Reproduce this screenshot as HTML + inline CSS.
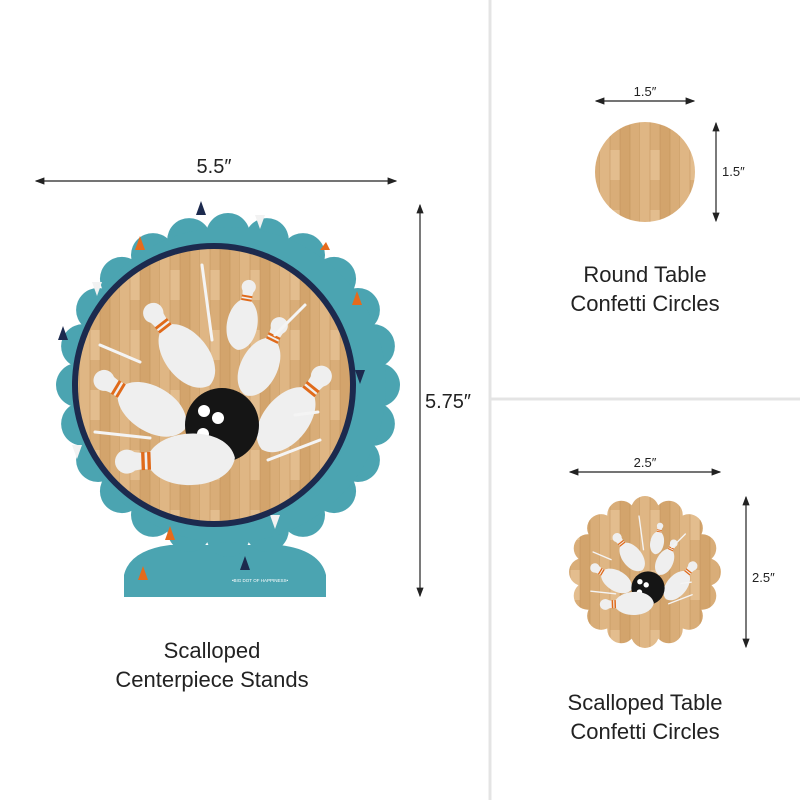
<!DOCTYPE html>
<html><head><meta charset="utf-8"><style>
body{margin:0;background:#fff;}
svg{display:block}
text{font-family:"Liberation Sans",sans-serif;fill:#222}
</style></head><body>
<svg width="800" height="800" viewBox="0 0 800 800" xmlns="http://www.w3.org/2000/svg">
<defs>
<marker id="a" markerWidth="8" markerHeight="8" refX="7" refY="4" orient="auto-start-reverse"><path d="M0,1 L8,4 L0,7 z" fill="#222"/></marker>
<pattern id="wood" width="40" height="60" patternUnits="userSpaceOnUse">
<rect width="40" height="60" fill="#d9ad78"/>
<rect x="0" width="10" height="60" fill="#dfb684"/>
<rect x="20" width="10" height="60" fill="#d3a46c"/>
<rect x="10" y="30" width="10" height="30" fill="#e3bd8e"/>
<path d="M10,0V60M20,0V60M30,0V60M40,0V60" stroke="#b98a52" stroke-width="0.8" opacity="0.5"/>
</pattern>
<g id="pin">
<circle cx="10" cy="0" r="10" fill="#efefef"/>
<path d="M10,-9 C20,-7 24,-6 30,-8 C45,-28 95,-26 100,0 C95,26 45,28 30,8 C24,6 20,7 10,9 z" fill="#efefef"/>
<rect x="22" y="-7.5" width="2.8" height="15" fill="#e06a1a"/>
<rect x="27" y="-7.5" width="2.8" height="15" fill="#e06a1a"/>
</g>
<g id="art">
<use href="#pin" transform="translate(147,305) rotate(52) scale(1.02)"/>
<use href="#pin" transform="translate(250,280) rotate(100) scale(0.71)"/>
<use href="#pin" transform="translate(283,318) rotate(116) scale(0.86)"/>
<use href="#pin" transform="translate(328,368) rotate(129) scale(1.05)"/>
<use href="#pin" transform="translate(95,375) rotate(31) scale(1.05)"/>
<g stroke="#f4f4f4" stroke-width="3" stroke-linecap="round">
<line x1="202" y1="265" x2="212" y2="340"/><line x1="100" y1="345" x2="140" y2="362"/>
<line x1="95" y1="432" x2="150" y2="438"/><line x1="268" y1="460" x2="320" y2="440"/>
<line x1="275" y1="335" x2="305" y2="305"/><line x1="295" y1="415" x2="318" y2="412"/>
</g>
<circle cx="222" cy="425" r="37" fill="#151515"/>
<circle cx="204" cy="411" r="6" fill="#fff"/><circle cx="218" cy="418" r="6" fill="#fff"/><circle cx="203" cy="434" r="6" fill="#fff"/>
<use href="#pin" transform="translate(115,462) rotate(-2) scale(1.2)"/>
</g>
</defs>
<rect width="800" height="800" fill="#fff"/>
<line x1="490" y1="0" x2="490" y2="800" stroke="#e4e4e4" stroke-width="3"/>
<line x1="490" y1="399" x2="800" y2="399" stroke="#e4e4e4" stroke-width="3"/>

<line x1="36" y1="181" x2="396" y2="181" stroke="#222" stroke-width="1.2" marker-start="url(#a)" marker-end="url(#a)"/>
<text x="214" y="173" font-size="20" text-anchor="middle">5.5″</text>
<line x1="420" y1="205" x2="420" y2="596" stroke="#222" stroke-width="1.2" marker-start="url(#a)" marker-end="url(#a)"/>
<text x="425" y="408" font-size="20">5.75″</text>
<path d="M124,597 L124,575 Q130,550 170,545 L280,545 Q320,550 326,575 L326,597 Z" fill="#4ba4b1"/>
<g id="scal" fill="#4ba4b1"></g>
<circle cx="228" cy="385" r="158" fill="#4ba4b1"/>
<g fill="#1c2a4e"><path d="M196,215 l5,-14 l5,14z"/><path d="M355,370 l5,14 l5,-14z"/><path d="M240,570 l5,-14 l5,14z"/><path d="M58,340 l5,-14 l5,14z"/></g>
<g fill="#e56b1c"><path d="M135,250 l5,-14 l5,14z"/><path d="M352,305 l5,-14 l5,14z"/><path d="M165,540 l5,-14 l5,14z"/><path d="M138,580 l5,-14 l5,14z"/><path d="M320,250 l6,-8 l4,8z"/></g>
<g fill="#f2f2f2"><path d="M92,282 l10,0 l-5,14z"/><path d="M255,215 l10,0 l-5,14z"/><path d="M72,445 l10,0 l-5,14z"/><path d="M270,515 l10,0 l-5,14z"/></g>
<circle cx="214" cy="385" r="142" fill="#1c2a4e"/>
<circle cx="214" cy="385" r="136" fill="url(#wood)"/>
<use href="#art"/>
<text x="260" y="582" font-size="4.5" style="fill:#fff" text-anchor="middle">•BIG DOT OF HAPPINESS•</text>
<text x="212" y="658" font-size="22" text-anchor="middle">Scalloped</text>
<text x="212" y="687" font-size="22" text-anchor="middle">Centerpiece Stands</text>

<line x1="596" y1="101" x2="694" y2="101" stroke="#222" stroke-width="1.2" marker-start="url(#a)" marker-end="url(#a)"/>
<text x="645" y="96" font-size="13" text-anchor="middle">1.5″</text>
<line x1="716" y1="123" x2="716" y2="221" stroke="#222" stroke-width="1.2" marker-start="url(#a)" marker-end="url(#a)"/>
<text x="722" y="176" font-size="13">1.5″</text>
<circle cx="645" cy="172" r="50" fill="url(#wood)"/>
<text x="645" y="282" font-size="22" text-anchor="middle">Round Table</text>
<text x="645" y="311" font-size="22" text-anchor="middle">Confetti Circles</text>

<line x1="570" y1="472" x2="720" y2="472" stroke="#222" stroke-width="1.2" marker-start="url(#a)" marker-end="url(#a)"/>
<text x="645" y="467" font-size="13" text-anchor="middle">2.5″</text>
<line x1="746" y1="497" x2="746" y2="647" stroke="#222" stroke-width="1.2" marker-start="url(#a)" marker-end="url(#a)"/>
<text x="752" y="582" font-size="13">2.5″</text>
<g id="scal2" fill="url(#wood)"></g>
<circle cx="645" cy="572" r="68" fill="url(#wood)"/>
<g transform="translate(648,588) scale(0.45) translate(-222,-425)"><use href="#art"/></g>
<text x="645" y="710" font-size="22" text-anchor="middle">Scalloped Table</text>
<text x="645" y="739" font-size="22" text-anchor="middle">Confetti Circles</text>
</svg>
<script>
function sc(id,cx,cy,R,r,n,fill){var g=document.getElementById(id);for(var i=0;i<n;i++){var t=i/n*2*Math.PI;var c=document.createElementNS("http://www.w3.org/2000/svg","circle");c.setAttribute("cx",cx+R*Math.cos(t));c.setAttribute("cy",cy+R*Math.sin(t));c.setAttribute("r",r);c.setAttribute("fill",fill);g.appendChild(c);}}
sc("scal",228,385,150,22,24,"#4ba4b1");
sc("scal2",645,572,62,14,16,"url(#wood)");
</script>
</body></html>
